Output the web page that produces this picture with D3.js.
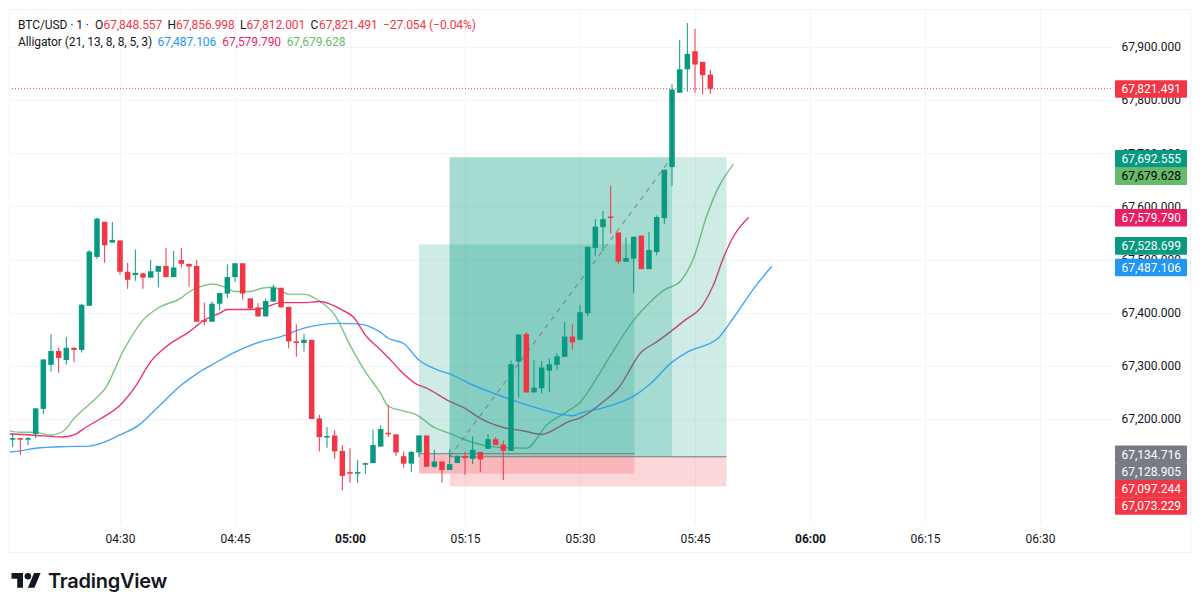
<!DOCTYPE html>
<html><head><meta charset="utf-8">
<script src="https://cdn.jsdelivr.net/npm/d3@7"></script>
<style>
html,body{margin:0;padding:0;background:#fff;overflow:hidden}
svg{display:block}
text{font-family:Roboto,sans-serif;font-size:12px}
</style></head><body>
<svg id="c" width="1200" height="611"></svg>
<script>
const firstMinute = -14; // minutes relative to 04:30
const opens  = [67161,67164,67161,67172,67219,67302,67328,67311,67334,67330,67413,67505,67571,67532,67536,67477,67471,67474,67466,67477,67488,67467,67499,67492,67488,67386,67383,67417,67436,67467,67493,67427,67410,67393,67421,67447,67411,67346,67343,67349,67201,67166,67169,67140,67100,67097,67114,67117,67148,67174,67171,67130,67116,67137,67169,67110,67120,67104,67117,67130,67125,67138,67144,67162,67152,67140,67308,67360,67250,67258,67291,67302,67317,67355,67349,67399,67522,67561,67581,67551,67496,67502,67545,67482,67514,67578,67674,67814,67858,67892,67872,67848];
const highs  = [67173,67164,67166,67221,67313,67360,67334,67354,67335,67417,67518,67579,67571,67571,67536,67494,67519,67475,67499,67488,67522,67516,67522,67492,67499,67419,67421,67437,67491,67493,67493,67427,67418,67427,67453,67447,67411,67378,67360,67349,67208,67185,67179,67151,67145,67123,67118,67180,67188,67226,67171,67139,67140,67169,67169,67142,67120,67143,67132,67138,67167,67138,67172,67166,67159,67310,67359,67364,67311,67309,67314,67324,67383,67378,67415,67525,67576,67591,67639,67551,67541,67543,67545,67552,67583,67669,67830,67913,67945,67934,67872,67857];
const lows   = [67147,67132,67151,67164,67209,67289,67287,67302,67307,67325,67413,67501,67494,67532,67471,67445,67460,67445,67466,67448,67467,67467,67485,67449,67383,67377,67383,67404,67428,67458,67425,67405,67393,67393,67421,67410,67333,67317,67327,67200,67139,67146,67125,67066,67080,67080,67096,67117,67148,67166,67130,67108,67100,67128,67110,67108,67080,67104,67117,67095,67115,67100,67144,67151,67085,67140,67240,67250,67250,67248,67250,67292,67317,67330,67349,67393,67507,67516,67549,67491,67496,67437,67482,67482,67508,67567,67639,67814,67816,67814,67811,67812];
const closes = [67164,67161,67164,67220,67312,67328,67315,67334,67330,67415,67515,67577,67527,67537,67477,67462,67475,67466,67478,67488,67467,67485,67492,67487,67383,67383,67417,67437,67467,67493,67436,67408,67393,67422,67447,67410,67346,67343,67349,67200,67166,67168,67139,67093,67097,67100,67117,67151,67181,67172,67137,67116,67138,67169,67110,67120,67104,67115,67130,67126,67142,67124,67162,67151,67140,67303,67359,67250,67259,67297,67303,67318,67355,67344,67401,67524,67562,67576,67580,67496,67503,67543,67482,67518,67580,67669,67820,67858,67887,67867,67847,67821.491];

const jawMinutes = [-15,-13,-11,-7,-4,-3,0,2.5,5,8,10,12,15,18,21,24,28.5,31,33,34,35,37,39,41.5,43,46,49,51.5,55,59,60,63,67,69,72,74,78,80,83,85];
const jawValues  = [67137,67140,67145,67148,67149,67152,67170,67189,67223,67264,67285,67302,67326,67344,67355,67371,67380,67379,67371,67363,67352,67342,67311,67292,67285,67264,67247,67234,67218,67206,67211,67221,67243,67264,67307,67326,67352,67390,67452,67487.106];
const teethMinutes = [-15,-11.5,-7.5,-6,-4.5,-2.5,0,2,4,6,9,11,13,14,17,18.5,21,24,26,29,30.5,32,34,35.5,36.5,38.5,40,43,45,47,50,52.5,55,57,58.5,60,63,65,68,70,73.7,76,77.4,78.7,80,82];
const teethValues  = [67172,67170,67166,67170,67184,67201,67226,67261,67308,67336,67364,67386,67399,67406,67406,67408,67419,67419,67421,67405,67391,67358,67330,67308,67292,67267,67258,67233,67220,67201,67184,67178,67171,67183,67195,67202,67232,67258,67326,67345,67386,67414,67452,67503,67543,67579.79];
const lipsMinutes = [-15,-13,-11.3,-9,-7.5,-6,-3,-2,0.5,3,5,8,9,10.5,12,13.5,15,17,18.5,20,22,24,26,28,30,32,34,35,37,38.5,41,43,45,48,50.5,53,55.7,58.3,60,62,64,67,69,71,73,74.8,76.5,78,80];
const lipsValues  = [67179,67175,67175,67170,67176,67201,67241,67256,67330,67386,67409,67428,67439,67449,67454,67449,67440,67440,67446,67448,67435,67435,67422,67396,67339,67289,67248,67224,67215,67209,67184,67173,67161,67149,67146,67145,67189,67214,67231,67273,67320,67386,67418,67443,67458,67502,67581,67634,67679.628];

const yTicks = [67900,67800,67700,67600,67500,67400,67300,67200];
const timeTickMinutes = [0,15,30,45,60,75,90,105,120];
const boldTicks = [30,90];

const positionStart  = [39,43];
const positionEnd    = [67.1,79.1];
const positionTarget = [67528.699,67692.555];
const positionEntry  = [67134.716,67128.905];
const positionStop   = [67097.244,67073.229];
const activeEnd = 72;

const lastClose = 67821.491;
const priceLabels = [67821.491,67692.555,67679.628,67579.79,67528.699,67487.106,67134.716,67128.905,67097.244,67073.229];
const priceLabelFill = ["#f23645","#089981","#66bb6a","#e91e63","#089981","#2196f3","#787b86","#787b86","#f23645","#f23645"];
const priceLabelText = ["#fff","#fff","#000","#fff","#fff","#fff","#fff","#fff","#fff","#fff"];
const priceLabelNudge = [0.2,1.5,12,0.5,1.5,1,0.5,15,15,19.5];

const up="#089981", down="#f23645";
const t0 = Date.UTC(2024,0,1,4,30);
const T = m => new Date(t0 + m*60000);
const x = d3.scaleUtc().domain([T(0),T(75)]).range([120,695]);
const y = d3.scaleLinear().domain([67900,67200]).range([47,419]);
const fmt3 = d3.format(",.3f");
const svg = d3.select("#c");

// frame
const L=9,R=1190,TOP=9,BOT=552,PR=1113,PB=524;
svg.append("rect").attr("x",L+.5).attr("y",TOP+.5).attr("width",R-L).attr("height",BOT-TOP).attr("fill","#fff").attr("stroke","#f0f3fa");
svg.append("defs").append("clipPath").attr("id","p").append("rect").attr("x",L+1).attr("y",TOP+1).attr("width",PR-L-1).attr("height",PB-TOP);

// grid
svg.append("g").selectAll("line").data(yTicks).join("line")
  .attr("x1",L).attr("x2",PR).attr("y1",d=>Math.round(y(d))+.5).attr("y2",d=>Math.round(y(d))+.5).attr("stroke","#f3f5fa");
svg.append("g").selectAll("line").data(timeTickMinutes).join("line")
  .attr("y1",TOP).attr("y2",PB).attr("x1",d=>Math.round(x(T(d)))+.5).attr("x2",d=>Math.round(x(T(d)))+.5).attr("stroke","#f3f5fa");
const plot = svg.append("g").attr("clip-path","url(#p)");

// alligator lines under the tools
const line=(ms)=>d3.line().x((d,i)=>x(T(ms[i]))).y(d=>y(d)).curve(d3.curveMonotoneX);
plot.append("path").attr("d",line(lipsMinutes)(lipsValues)).attr("fill","none").attr("stroke","#66bb6a").attr("stroke-width",1.4).attr("stroke-opacity",.85);
plot.append("path").attr("d",line(teethMinutes)(teethValues)).attr("fill","none").attr("stroke","#e91e63").attr("stroke-width",1.4).attr("stroke-opacity",.9);

// positions
const rect=(m0,m1,p0,p1,fill)=>plot.append("rect").attr("x",x(T(m0))).attr("width",x(T(m1))-x(T(m0))).attr("y",y(Math.max(p0,p1))).attr("height",Math.abs(y(p0)-y(p1))).attr("fill",fill);
positionStart.forEach((s,i)=>{
  rect(s,positionEnd[i],positionEntry[i],positionTarget[i],"rgba(8,153,129,.2)");
  rect(s,positionEnd[i],positionEntry[i],positionStop[i],"rgba(242,54,69,.2)");
});
rect(positionStart[1],activeEnd,positionEntry[1],positionTarget[1],"rgba(8,153,129,.2)");
rect(positionStart[0],positionStart[1],positionEntry[0],positionStop[0],"rgba(242,54,69,.16)");
positionStart.forEach((s,i)=>{
  plot.append("line").attr("x1",x(T(s))).attr("x2",x(T(positionEnd[i]))).attr("y1",y(positionEntry[i])).attr("y2",y(positionEntry[i])).attr("stroke","#6b7f7c").attr("stroke-width",1);
});
plot.append("line").attr("x1",x(T(positionStart[1]))).attr("y1",y(positionEntry[1])).attr("x2",x(T(activeEnd))).attr("y2",y(positionTarget[1]))
  .attr("stroke","#787b86").attr("stroke-opacity",.8).attr("stroke-dasharray","5 5").attr("stroke-width",1.2);

plot.append("path").attr("d",line(jawMinutes)(jawValues)).attr("fill","none").attr("stroke","#2196f3").attr("stroke-width",1.4).attr("stroke-opacity",.85);

// price line
plot.append("line").attr("x1",L).attr("x2",PR).attr("y1",y(lastClose)).attr("y2",y(lastClose)).attr("stroke",down).attr("stroke-dasharray","1 2");

// candles
const bars = opens.map((o,i)=>({m:firstMinute+i,o,h:highs[i],l:lows[i],c:closes[i]}));
const g = plot.append("g").selectAll("g").data(bars).join("g").attr("fill",d=>d.c>=d.o?up:down).attr("stroke",d=>d.c>=d.o?up:down);
g.append("line").attr("x1",d=>x(T(d.m))).attr("x2",d=>x(T(d.m))).attr("y1",d=>y(d.h)).attr("y2",d=>y(d.l)).attr("stroke-width",1);
g.append("rect").attr("stroke","none").attr("x",d=>x(T(d.m))-2.75).attr("width",5.5)
  .attr("y",d=>y(Math.max(d.o,d.c))).attr("height",d=>Math.max(1.5,Math.abs(y(d.o)-y(d.c))));

// price axis
const ya = svg.append("g").attr("transform",`translate(1181,0)`).call(d3.axisRight(y).tickValues(yTicks).tickFormat(fmt3).tickSize(0).tickPadding(0));
ya.select(".domain").remove();
ya.selectAll("text").attr("text-anchor","end").attr("fill","#131722").style("font-family","Roboto").style("font-size","12px");

// time axis
const xa = svg.append("g").attr("transform",`translate(0,${PB})`).call(d3.axisBottom(x).tickValues(timeTickMinutes.map(T)).tickFormat(d3.utcFormat("%H:%M")).tickSize(0).tickPadding(10));
xa.select(".domain").remove();
xa.selectAll("text").attr("fill","#131722").style("font-family","Roboto").style("font-size","12px")
  .style("font-weight",d=>boldTicks.includes((d-t0)/60000)?700:400);

// price labels
const pl = svg.append("g").selectAll("g").data(priceLabels).join("g").attr("transform",(d,i)=>`translate(0,${y(d)+priceLabelNudge[i]})`);
pl.append("rect").attr("x",1115).attr("y",-8.7).attr("width",72).attr("height",17.6).attr("rx",1).attr("fill",(d,i)=>priceLabelFill[i]);
pl.append("text").attr("x",1181).attr("y",4.3).attr("text-anchor","end").attr("fill",(d,i)=>priceLabelText[i]).text(d=>fmt3(d));

// legend
const ink="#131722";
const legend=[
 [18,29,ink,"BTC/USD · 1 ·"],[95,29,ink,"O"],[103.5,29,down,"67,848.557"],[167.5,29,ink,"H"],[176,29,down,"67,856.998"],
 [240,29,ink,"L"],[246.5,29,down,"67,812.001"],[310.5,29,ink,"C"],[319,29,down,"67,821.491"],[383,29,down,"−27.054 (−0.04%)"],
 [18,46,ink,"Alligator (21, 13, 8, 8, 5, 3)"],[157.5,46,"#2196f3","67,487.106"],[222.3,46,"#e91e63","67,579.790"],[286.7,46,"#66bb6a","67,679.628"]];
svg.append("g").selectAll("text").data(legend).join("text").attr("x",d=>d[0]).attr("y",d=>d[1]).attr("fill",d=>d[2]).style("letter-spacing","-.08px").text(d=>d[3]);

// logo
const logo=svg.append("g").attr("transform","translate(11.5,569.7) scale(.82)").attr("fill","#131722");
logo.append("path").attr("d","M14 22H7V11H0V4h14v18zM28 22h-8l7.5-18h8L28 22z");
logo.append("circle").attr("cx",20).attr("cy",8).attr("r",4);
svg.append("text").attr("x",48).attr("y",588).attr("fill","#131722").style("font-family","Inter").style("font-size","20px").style("font-weight",600).style("letter-spacing","-.25px").text("TradingView");
</script></body></html>
